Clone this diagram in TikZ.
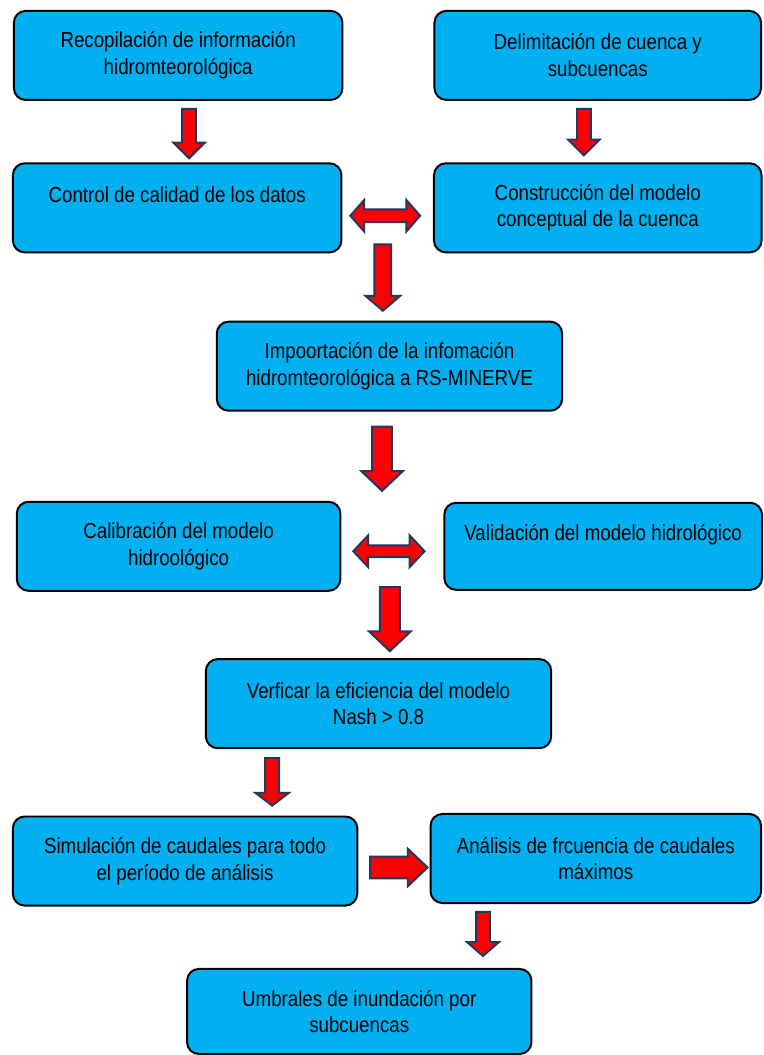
\documentclass[tikz,border=0pt]{standalone}
\usepackage{fontspec}
\setmainfont{Liberation Sans}[FakeStretch=0.86]
\usepackage{xcolor}
\usetikzlibrary{positioning,calc}

\definecolor{boxcyan}{HTML}{00B0F0}
\definecolor{arrowred}{HTML}{FF0000}
\definecolor{arrownavy}{HTML}{1F3864}

% block arrows: start, tip, shaft half width, head half width, head length
\newcommand{\fatdown}[5]{%
  \draw[blockarrow] let \p1=#1, \p2=#2 in
    (\x1-#3,\y1) -- (\x1+#3,\y1) -- (\x1+#3,\y2+#5) -- (\x1+#4,\y2+#5)
    -- (\x1,\y2) -- (\x1-#4,\y2+#5) -- (\x1-#3,\y2+#5) -- cycle;}
\newcommand{\fatright}[5]{%
  \draw[blockarrow] let \p1=#1, \p2=#2 in
    (\x1,\y1+#3) -- (\x2-#5,\y1+#3) -- (\x2-#5,\y1+#4) -- (\x2,\y1)
    -- (\x2-#5,\y1-#4) -- (\x2-#5,\y1-#3) -- (\x1,\y1-#3) -- cycle;}
\newcommand{\fatboth}[5]{%
  \draw[blockarrow] let \p1=#1, \p2=#2 in
    (\x1,\y1) -- (\x1+#5,\y1+#4) -- (\x1+#5,\y1+#3) -- (\x2-#5,\y1+#3)
    -- (\x2-#5,\y1+#4) -- (\x2,\y1) -- (\x2-#5,\y1-#4) -- (\x2-#5,\y1-#3)
    -- (\x1+#5,\y1-#3) -- (\x1+#5,\y1-#4) -- cycle;}

\begin{document}
\begin{tikzpicture}[
    line join=miter,
    box/.style={rectangle, draw=black, line width=1.5pt, fill=boxcyan, rounded corners=9pt,
      minimum width=249pt, minimum height=67.5pt, align=center,
      font=\fontsize{16.5}{20.25}\selectfont},
    wide/.style={minimum width=261.75pt},
    blockarrow/.style={draw=arrownavy, fill=arrowred, line width=1.5pt}
]

% Recopilacion
\node [box] (recop) {Recopilación de información\\hidromteorológica};

% Delimitacion
\node [box, minimum width=247.5pt, right=68.25pt of recop] (delim) {Delimitación de cuenca y\\subcuencas};

% Control de calidad
\node [box, below=46.5pt of recop, xshift=-0.75pt] (control) {Control de calidad de los datos\\~};

% Modelo conceptual
\node [box, minimum width=248.25pt, below=46.5pt of delim] (constr) {Construcción del modelo\\conceptual de la cuenca};

% Importacion
\node [box, wide, below=51pt of control, xshift=160.9pt] (import) {Impoortación de la infomación\\hidromteorológica a RS-MINERVE};

% Calibracion
\node [box, minimum width=245.25pt, below=67.5pt of import, xshift=-159.8pt] (calib) {Calibración del modelo\\hidroológico};

% Validacion
\node [box, minimum width=240.75pt, minimum height=66pt, right=77.25pt of calib] (valid) {Validación del modelo hidrológico\\~};

% Eficiencia
\node [box, wide, below=50.25pt of calib, xshift=151.5pt] (verif) {Verficar la eficiencia del modelo\\Nash > 0.8};

% Simulacion
\node [box, minimum width=261pt, below=50.25pt of verif, xshift=-146.6pt] (simul) {Simulación de caudales para todo\\el período de análisis};

% Frecuencia
\node [box, minimum width=250.5pt, right=54pt of simul, yshift=1.9pt] (anal) {Análisis de frcuencia de caudales\\máximos};

% Umbrales
\node [box, minimum width=261pt, minimum height=64.5pt, below=46.5pt of simul, xshift=132pt] (umbr) {Umbrales de inundación por\\subcuencas};

\useasboundingbox ($(recop.north west)+(-9.75pt,7.5pt)$) rectangle ++(576.75pt,-791.25pt);

% Connections
\fatdown{($(recop.south)+(8.25pt,-6pt)$)}{($(control.north)+(0pt,3pt)$)}{5.25pt}{12pt}{12pt}
\fatdown{($(delim.south)+(-10.5pt,-6pt)$)}{($(constr.north)+(0pt,5.25pt)$)}{5.25pt}{12pt}{12pt}
\fatboth{($(control.east)+(6pt,-6pt)$)}{($(constr.west)+(-9.75pt,0pt)$)}{4.875pt}{12pt}{10.5pt}
\fatdown{($(control.south east)!0.5!(constr.south west)+(-3.7pt,6.75pt)$)}{($(import.north)+(0pt,7.5pt)$)}{6.375pt}{13.1pt}{11.25pt}
\fatdown{($(import.south)+(-5.6pt,-11.25pt)$)}{($(calib.north)+(0pt,7.5pt)$)}{7.5pt}{15.75pt}{15pt}
\fatboth{($(calib.east)+(9pt,-3.75pt)$)}{($(valid.west)+(-14.25pt,0pt)$)}{4.5pt}{12pt}{11.25pt}
\fatdown{($(calib.south east)!0.5!(valid.south west)+(-1.9pt,3.25pt)$)}{($(verif.north)+(0pt,5.25pt)$)}{7.5pt}{15.75pt}{15pt}
\fatdown{($(verif.south west)+(51pt,-6.75pt)$)}{($(simul.north)+(0pt,7.5pt)$)}{5.25pt}{12.75pt}{9.75pt}
\fatright{($(simul.east)+(9pt,-4.9pt)$)}{($(anal.west)+(-1.5pt,0pt)$)}{8.25pt}{14.25pt}{15pt}
\fatdown{($(anal.south)+(-85.5pt,-6pt)$)}{($(umbr.north)+(0pt,9pt)$)}{5.25pt}{12pt}{10.5pt}

\end{tikzpicture}
\end{document}
